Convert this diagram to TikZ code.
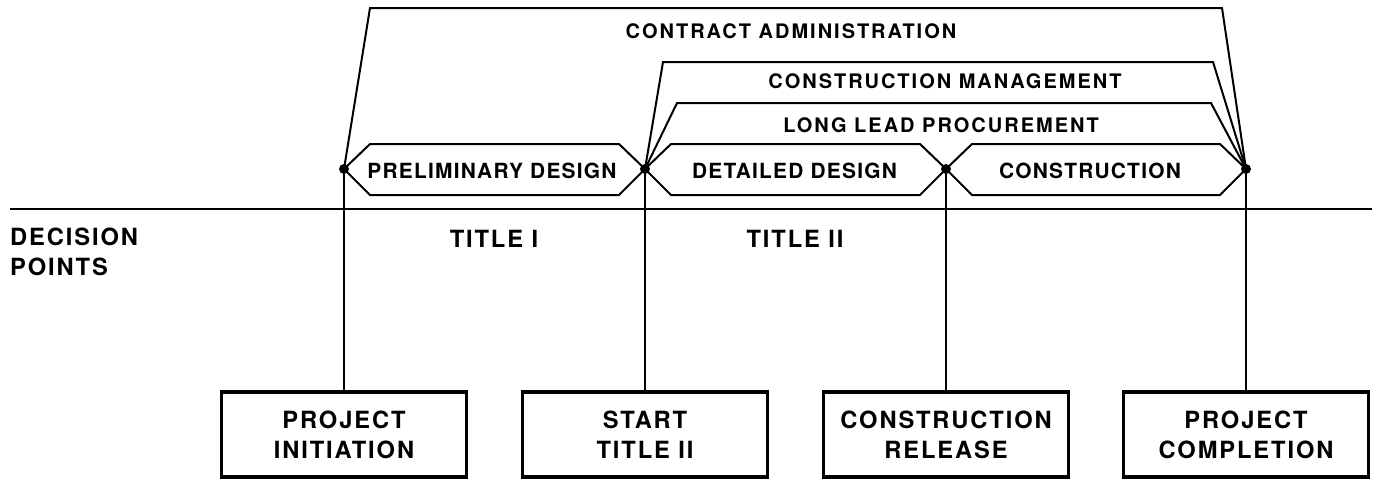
\documentclass[tikz,border=0pt]{standalone}
\usepackage{fontspec}
\usetikzlibrary{calc}
\setmainfont{TeX Gyre Heros}
\newfontfamily\boxfont[LetterSpace=8]{TeX Gyre Heros}
\newfontfamily\topfont[LetterSpace=10]{TeX Gyre Heros}
\newfontfamily\hexfont[LetterSpace=6]{TeX Gyre Heros}
\begin{document}
\begin{tikzpicture}[x=1pt,y=-1pt,
  thin line/.style={line width=2pt,line join=miter},
  decisionbox/.style={draw,line width=3.5pt,minimum width=245pt,minimum height=85pt,
     inner sep=0pt,align=center,font=\boxfont\bfseries\fontsize{23.7}{30}\selectfont},
  toplabel/.style={anchor=base,inner sep=0pt,font=\topfont\bfseries\fontsize{20}{24}\selectfont},
  hexlabel/.style={anchor=base,inner sep=0pt,font=\hexfont\bfseries\fontsize{20.9}{24}\selectfont},
  sidelabel/.style={anchor=base,inner sep=0pt,font=\boxfont\bfseries\fontsize{23.7}{30}\selectfont},
  dot/.style={circle,fill,inner sep=0pt,minimum size=10pt}]
\useasboundingbox (0,0) rectangle (1377,480);

% decision points
\coordinate (dA) at (344,169);
\coordinate (dB) at (645,169);
\coordinate (dC) at (946,169);
\coordinate (dD) at (1246,169);

% baseline
\coordinate (hl) at (10,209);
\coordinate (hr) at (1372,209);
\draw[thin line] (hl) -- (hr);

% decision boxes
\node[decisionbox] (bA) at (344,434.5) {PROJECT\\INITIATION};
\node[decisionbox] (bB) at (645,434.5) {START\\TITLE II};
\node[decisionbox] (bC) at (946,434.5) {CONSTRUCTION\\RELEASE};
\node[decisionbox] (bD) at (1246,434.5) {PROJECT\\COMPLETION};

% vertical connectors
\draw[thin line] (dA) -- (bA.north);
\draw[thin line] (dB) -- (bB.north);
\draw[thin line] (dC) -- (bC.north);
\draw[thin line] (dD) -- (bD.north);

% hexagons
\draw[thin line] (dA) -- ($(dA)+(26,-25)$) -- ($(dB)+(-26,-25)$) -- (dB)
   -- ($(dB)+(-26,26)$) -- ($(dA)+(26,26)$) -- cycle;
\draw[thin line] (dB) -- ($(dB)+(26,-25)$) -- ($(dC)+(-26,-25)$) -- (dC)
   -- ($(dC)+(-26,26)$) -- ($(dB)+(26,26)$) -- cycle;
\draw[thin line] (dC) -- ($(dC)+(26,-25)$) -- ($(dD)+(-26,-25)$) -- (dD)
   -- ($(dD)+(-26,26)$) -- ($(dC)+(26,26)$) -- cycle;

\node[hexlabel] (lPD) at (492,178) {PRELIMINARY DESIGN};
\node[hexlabel] (lDD) at (794.5,178) {DETAILED DESIGN};
\node[hexlabel] (lCO) at (1090,178) {CONSTRUCTION};

% spanning brackets
\draw[thin line] (dA) -- (370,8) -- (1222,8) -- (dD);
\draw[thin line] (dB) -- (663,62) -- (1213,62) -- (dD);
\draw[thin line] (dB) -- (677,103) -- (1211,103) -- (dD);

\node[toplabel] (lCA) at (791,38) {CONTRACT ADMINISTRATION};
\node[toplabel] (lCM) at (945,88) {CONSTRUCTION MANAGEMENT};
\node[toplabel] (lLL) at (941,132) {LONG LEAD PROCUREMENT};

% dots
\foreach \p in {dA,dB,dC,dD} \node[dot] at (\p) {};

% side labels
\node[sidelabel,anchor=base west] (lDe) at (10,245) {DECISION};
\node[sidelabel,anchor=base west] (lPo) at (10,275) {POINTS};
\node[sidelabel] (lT1) at (494,247) {TITLE I};
\node[sidelabel] (lT2) at (795,247) {TITLE II};
\end{tikzpicture}
\end{document}
